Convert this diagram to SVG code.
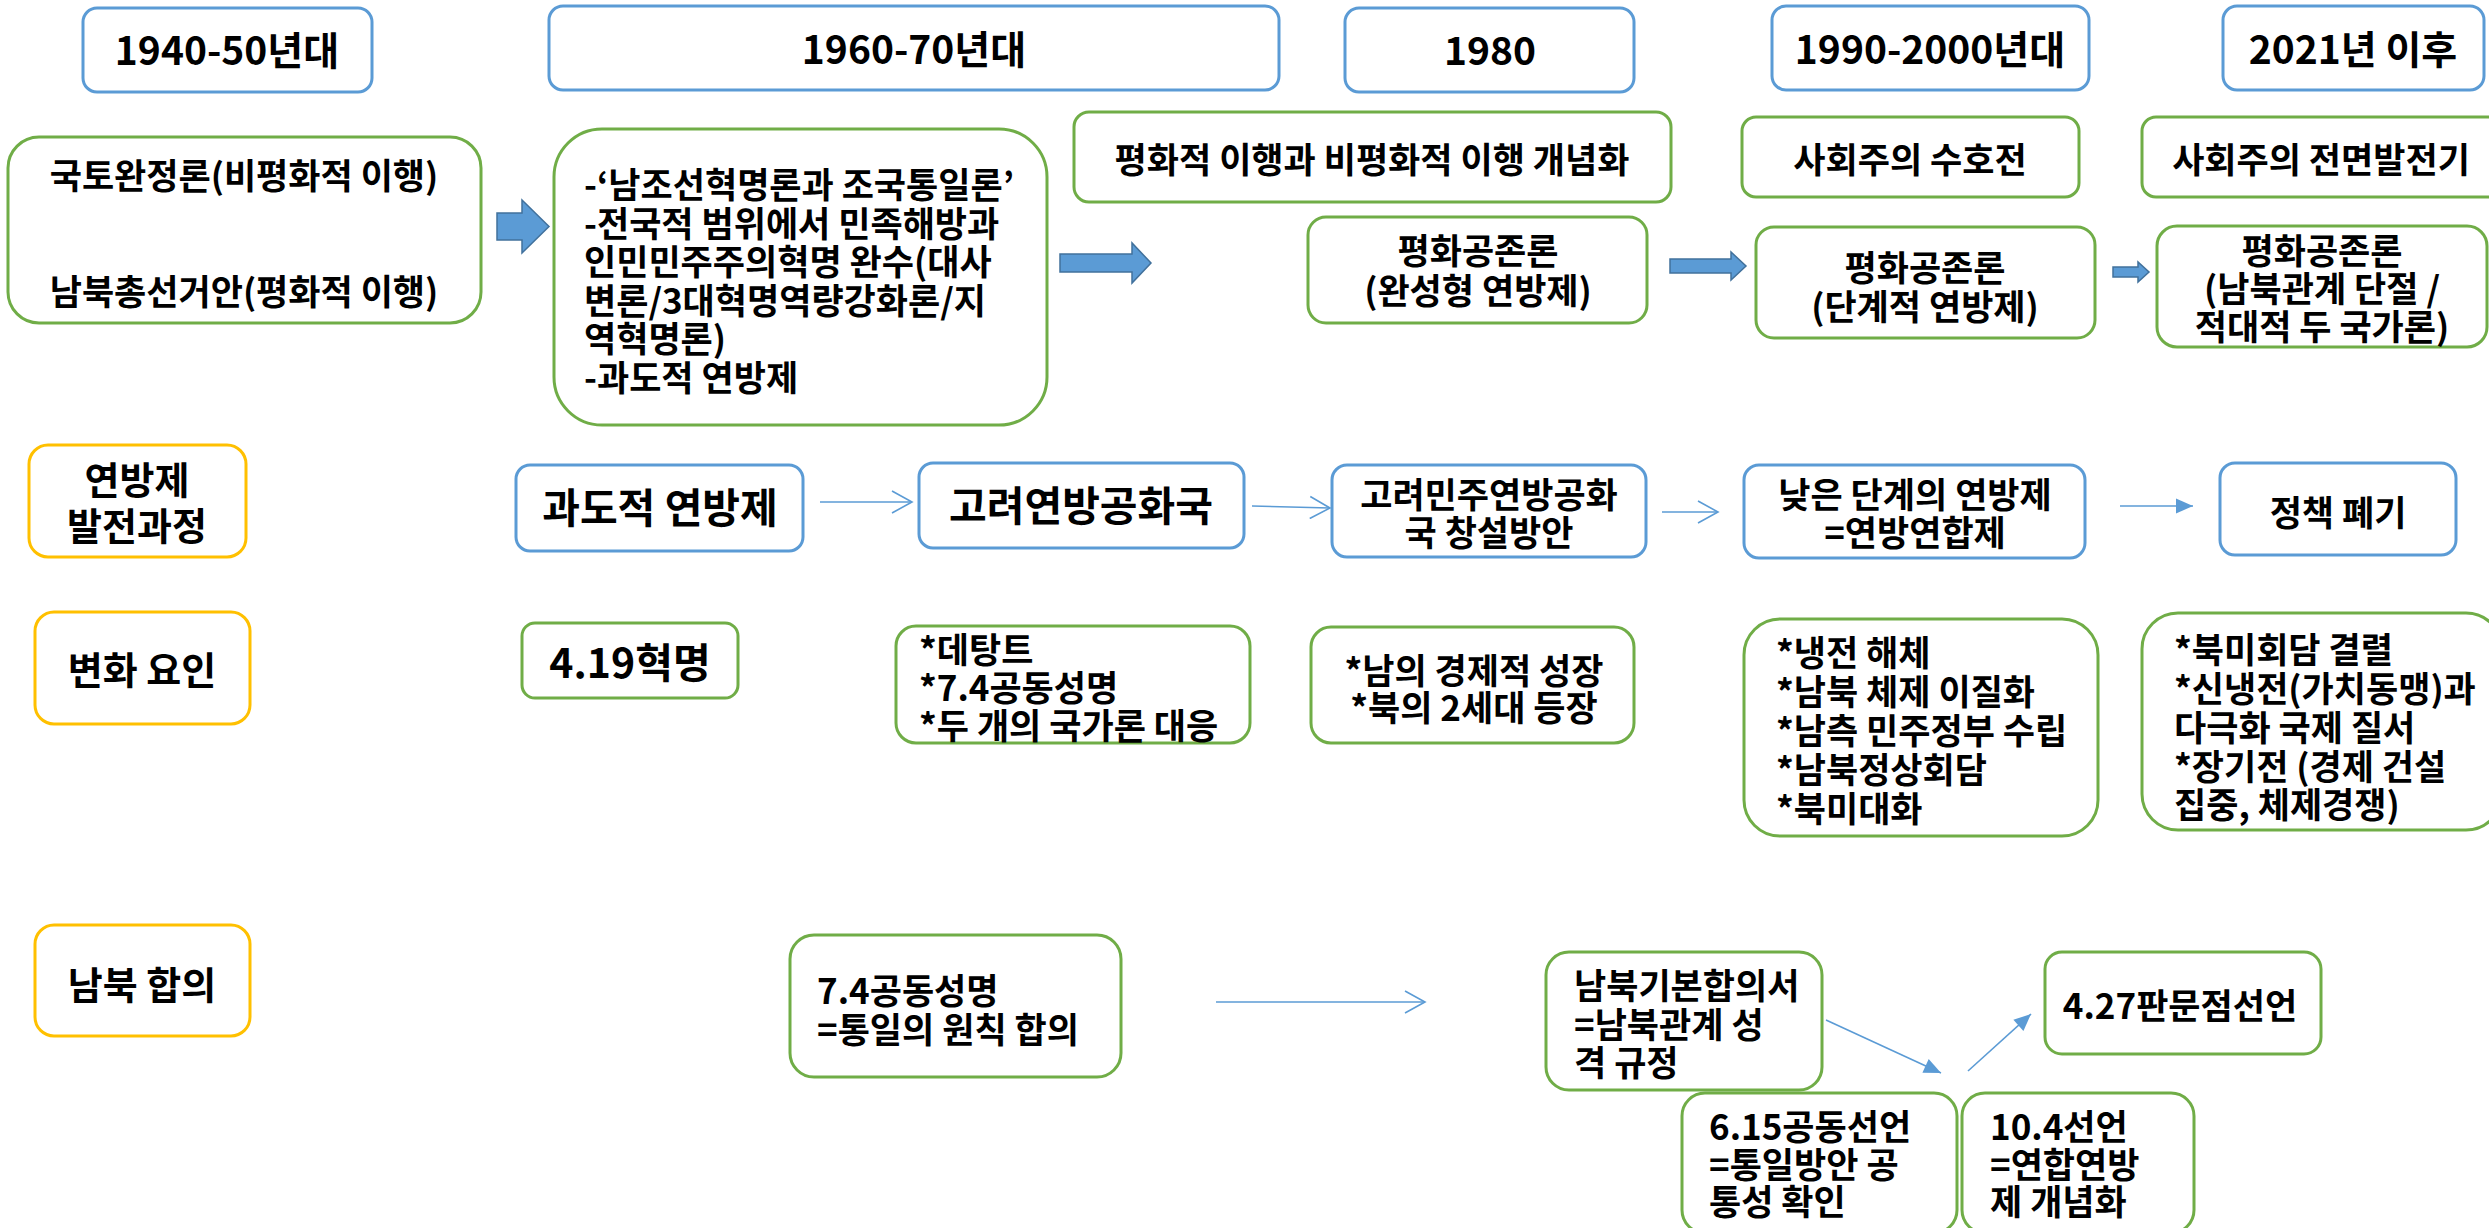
<svg xmlns="http://www.w3.org/2000/svg" width="2489" height="1228" viewBox="0 0 2489 1228">
<style>
text{font-family:"Noto Sans CJK KR","Noto Sans",sans-serif;font-weight:700;fill:#000;dominant-baseline:central}
.b{font-size:35px}
.l{font-size:41px}
.h{font-size:39px}
.y{font-size:38px}
.m{text-anchor:middle}
.bl{fill:#fff;stroke:#5B9BD5;stroke-width:3}
.gr{fill:#fff;stroke:#70AD47;stroke-width:3}
.ye{fill:#fff;stroke:#FFC000;stroke-width:3}
.fat{fill:#5B9BD5;stroke:#41719C;stroke-width:1.5}
.ln{fill:none;stroke:#5B9BD5;stroke-width:1.6}
</style>
<defs>
<marker id="open" markerUnits="userSpaceOnUse" markerWidth="24" markerHeight="24" viewBox="-22 -12 24 24" refX="0" refY="0" orient="auto">
<path d="M-20,-11 L0,0 L-20,11" fill="none" stroke="#5B9BD5" stroke-width="1.6"/>
</marker>
<marker id="fill" markerUnits="userSpaceOnUse" markerWidth="20" markerHeight="18" viewBox="-18 -9 20 18" refX="0" refY="0" orient="auto">
<path d="M-17,-7.5 L0,0 L-17,7.5 Z" fill="#5B9BD5"/>
</marker>
</defs>

<g id="header-1940">
<rect class="bl" x="83" y="8" width="289" height="84" rx="14"/>
<text class="h m" x="227" y="48">1940-50년대</text>
</g>
<g id="header-1960">
<rect class="bl" x="549" y="6" width="730" height="84" rx="14"/>
<text class="h m" x="914" y="47">1960-70년대</text>
</g>
<g id="header-1980">
<rect class="bl" x="1345" y="8" width="289" height="84" rx="14"/>
<text class="h m" x="1490" y="48">1980</text>
</g>
<g id="header-1990">
<rect class="bl" x="1772" y="6" width="317" height="84" rx="14"/>
<text class="h m" x="1930" y="47">1990-2000년대</text>
</g>
<g id="header-2021">
<rect class="bl" x="2223" y="6" width="261" height="84" rx="14"/>
<text class="h m" x="2353" y="47">2021년 이후</text>
</g>

<g id="node-1940s">
<rect class="gr" x="8" y="137" width="473" height="186" rx="31"/>
<text class="b m" x="244" y="173">국토완정론(비평화적 이행)</text>
<text class="b m" x="244" y="289">남북총선거안(평화적 이행)</text>
</g>
<g id="node-1960s">
<rect class="gr" x="554" y="129" width="493" height="296" rx="48"/>
<text class="b" x="584" y="182">-‘남조선혁명론과 조국통일론’</text>
<text class="b" x="584" y="221">-전국적 범위에서 민족해방과</text>
<text class="b" x="584" y="259">인민민주주의혁명 완수(대사</text>
<text class="b" x="584" y="298">변론/3대혁명역량강화론/지</text>
<text class="b" x="584" y="336">역혁명론)</text>
<text class="b" x="584" y="375">-과도적 연방제</text>
</g>
<g id="node-1980-concept">
<rect class="gr" x="1074" y="112" width="597" height="90" rx="15"/>
<text class="b m" x="1372" y="157">평화적 이행과 비평화적 이행 개념화</text>
</g>
<g id="node-1990-concept">
<rect class="gr" x="1742" y="117" width="337" height="80" rx="14"/>
<text class="b m" x="1910" y="157">사회주의 수호전</text>
</g>
<g id="node-2021-concept">
<rect class="gr" x="2142" y="117" width="360" height="80" rx="14"/>
<text class="b m" x="2321" y="157">사회주의 전면발전기</text>
</g>
<g id="node-1980-peace">
<rect class="gr" x="1308" y="217" width="339" height="106" rx="18"/>
<text class="b m" x="1478" y="248">평화공존론</text>
<text class="b m" x="1478" y="288">(완성형 연방제)</text>
</g>
<g id="node-1990-peace">
<rect class="gr" x="1756" y="227" width="339" height="111" rx="18"/>
<text class="b m" x="1925" y="265">평화공존론</text>
<text class="b m" x="1925" y="304">(단계적 연방제)</text>
</g>
<g id="node-2021-peace">
<rect class="gr" x="2157" y="226" width="330" height="121" rx="20"/>
<text class="b m" x="2322" y="248">평화공존론</text>
<text class="b m" x="2322" y="286">(남북관계 단절 /</text>
<text class="b m" x="2322" y="324">적대적 두 국가론)</text>
</g>

<g id="label-federation">
<rect class="ye" x="29" y="445" width="217" height="112" rx="19"/>
<text class="y m" x="137" y="477">연방제</text>
<text class="y m" x="137" y="523">발전과정</text>
</g>
<g id="fed-1">
<rect class="bl" x="516" y="465" width="287" height="86" rx="14"/>
<text class="l m" x="660" y="505">과도적 연방제</text>
</g>
<g id="fed-2">
<rect class="bl" x="919" y="463" width="325" height="85" rx="14"/>
<text class="l m" x="1081" y="503">고려연방공화국</text>
</g>
<g id="fed-3">
<rect class="bl" x="1332" y="465" width="314" height="92" rx="15"/>
<text class="b m" x="1489" y="492">고려민주연방공화</text>
<text class="b m" x="1489" y="530">국 창설방안</text>
</g>
<g id="fed-4">
<rect class="bl" x="1744" y="465" width="341" height="93" rx="15"/>
<text class="b m" x="1915" y="492">낮은 단계의 연방제</text>
<text class="b m" x="1915" y="530">=연방연합제</text>
</g>
<g id="fed-5">
<rect class="bl" x="2220" y="463" width="236" height="92" rx="15"/>
<text class="b m" x="2338" y="510">정책 폐기</text>
</g>

<g id="label-factors">
<rect class="ye" x="35" y="612" width="215" height="112" rx="19"/>
<text class="y m" x="142" y="667">변화 요인</text>
</g>
<g id="factor-1">
<rect class="gr" x="522" y="623" width="216" height="75" rx="13"/>
<text class="l m" x="630" y="660">4.19혁명</text>
</g>
<g id="factor-2">
<rect class="gr" x="896" y="626" width="354" height="117" rx="20"/>
<text class="b" x="919" y="647">*데탕트</text>
<text class="b" x="919" y="685">*7.4공동성명</text>
<text class="b" x="919" y="723">*두 개의 국가론 대응</text>
</g>
<g id="factor-3">
<rect class="gr" x="1311" y="627" width="323" height="116" rx="20"/>
<text class="b m" x="1474" y="668">*남의 경제적 성장</text>
<text class="b m" x="1474" y="705">*북의 2세대 등장</text>
</g>
<g id="factor-4">
<rect class="gr" x="1744" y="619" width="354" height="217" rx="36"/>
<text class="b" x="1776" y="650">*냉전 해체</text>
<text class="b" x="1776" y="689">*남북 체제 이질화</text>
<text class="b" x="1776" y="728">*남측 민주정부 수립</text>
<text class="b" x="1776" y="767">*남북정상회담</text>
<text class="b" x="1776" y="806">*북미대화</text>
</g>
<g id="factor-5">
<rect class="gr" x="2142" y="613" width="360" height="217" rx="36"/>
<text class="b" x="2174" y="647">*북미회담 결렬</text>
<text class="b" x="2174" y="686">*신냉전(가치동맹)과</text>
<text class="b" x="2174" y="725">다극화 국제 질서</text>
<text class="b" x="2174" y="764">*장기전 (경제 건설</text>
<text class="b" x="2174" y="802">집중, 체제경쟁)</text>
</g>

<g id="label-agreements">
<rect class="ye" x="35" y="925" width="215" height="111" rx="19"/>
<text class="y m" x="142" y="982">남북 합의</text>
</g>
<g id="agree-74">
<rect class="gr" x="790" y="935" width="331" height="142" rx="24"/>
<text class="b" x="817" y="988">7.4공동성명</text>
<text class="b" x="817" y="1027">=통일의 원칙 합의</text>
</g>
<g id="agree-basic">
<rect class="gr" x="1546" y="952" width="276" height="138" rx="23"/>
<text class="b" x="1574" y="983">남북기본합의서</text>
<text class="b" x="1574" y="1022">=남북관계 성</text>
<text class="b" x="1574" y="1060">격 규정</text>
</g>
<g id="agree-427">
<rect class="gr" x="2045" y="952" width="276" height="102" rx="17"/>
<text class="b m" x="2180" y="1003">4.27판문점선언</text>
</g>
<g id="agree-615">
<rect class="gr" x="1682" y="1093" width="275" height="140" rx="23"/>
<text class="b" x="1709" y="1124">6.15공동선언</text>
<text class="b" x="1709" y="1162">=통일방안 공</text>
<text class="b" x="1709" y="1199">통성 확인</text>
</g>
<g id="agree-104">
<rect class="gr" x="1962" y="1093" width="232" height="140" rx="23"/>
<text class="b" x="1990" y="1124">10.4선언</text>
<text class="b" x="1990" y="1162">=연합연방</text>
<text class="b" x="1990" y="1199">제 개념화</text>
</g>

<g id="connectors">
<polygon class="fat" points="497,213 522,213 522,200 549,226.5 522,253 522,240 497,240"/>
<polygon class="fat" points="1060,254 1132,254 1132,243 1151,263 1132,283 1132,272 1060,272"/>
<polygon class="fat" points="1670,259 1731,259 1731,252 1746,266 1731,280 1731,273 1670,273"/>
<polygon class="fat" points="2113,267 2138,267 2138,262 2149,272 2138,282 2138,277 2113,277"/>
<line class="ln" x1="820" y1="502" x2="912" y2="502" marker-end="url(#open)"/>
<line class="ln" x1="1252" y1="506" x2="1330" y2="508" marker-end="url(#open)"/>
<line class="ln" x1="1662" y1="512" x2="1718" y2="512" marker-end="url(#open)"/>
<line class="ln" x1="2120" y1="506" x2="2193" y2="506" marker-end="url(#fill)"/>
<line class="ln" x1="1216" y1="1002" x2="1425" y2="1002" marker-end="url(#open)"/>
<line class="ln" x1="1826" y1="1020" x2="1941" y2="1073" marker-end="url(#fill)"/>
<line class="ln" x1="1968" y1="1071" x2="2031" y2="1014" marker-end="url(#fill)"/>
</g>
</svg>
